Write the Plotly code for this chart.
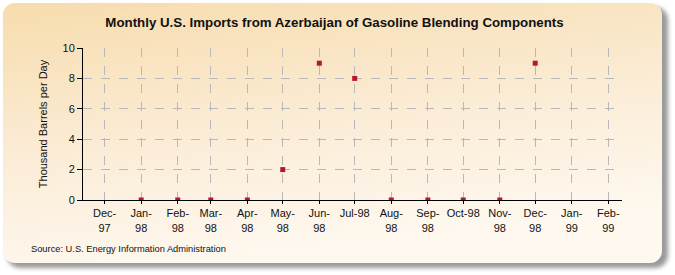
import base64
import plotly.graph_objects as go

# ---- data ----
months = ["1998-01-01", "1998-02-01", "1998-03-01", "1998-04-01", "1998-05-01", "1998-06-01",
          "1998-07-01", "1998-08-01", "1998-09-01", "1998-10-01", "1998-11-01", "1998-12-01"]
values = [0, 0, 0, 0, 2, 9, 8, 0, 0, 0, 0, 9]

tick_dates = ["1997-12-01", "1998-01-01", "1998-02-01", "1998-03-01", "1998-04-01", "1998-05-01",
              "1998-06-01", "1998-07-01", "1998-08-01", "1998-09-01", "1998-10-01", "1998-11-01",
              "1998-12-01", "1999-01-01", "1999-02-01"]
tick_labels = ["Dec-<br>97", "Jan-<br>98", "Feb-<br>98", "Mar-<br>98", "Apr-<br>98", "May-<br>98",
               "Jun-<br>98", "Jul-98", "Aug-<br>98", "Sep-<br>98", "Oct-98", "Nov-<br>98",
               "Dec-<br>98", "Jan-<br>99", "Feb-<br>99"]

title = "Monthly U.S. Imports from Azerbaijan of Gasoline Blending Components"
y_title = "Thousand Barrels per Day"
source = "Source: U.S. Energy Information Administration"

W, H = 675, 275
L, R, T, B = 83, 53, 48, 75
pw, ph = W - L - R, H - T - B

svg = f'''<svg xmlns="http://www.w3.org/2000/svg" width="{W}" height="{H}" viewBox="0 0 {W} {H}">
<defs>
<linearGradient id="g" x1="0" y1="0" x2="0.3" y2="1">
<stop offset="0" stop-color="#f7dcad"/>
<stop offset="0.55" stop-color="#fbecd6"/>
<stop offset="1" stop-color="#fef8ef"/>
</linearGradient>
<filter id="f" x="-5%" y="-5%" width="110%" height="110%"><feGaussianBlur stdDeviation="2"/></filter>
</defs>
<rect x="7" y="7" width="661" height="261" rx="13" ry="13" fill="#9a9a9a" filter="url(#f)"/>
<rect x="3" y="3" width="659" height="260" rx="12" ry="12" fill="url(#g)"/>
</svg>'''
src = "data:image/svg+xml;base64," + base64.b64encode(svg.encode()).decode()

fig = go.Figure()
fig.add_trace(go.Scatter(
    x=months, y=values, mode="markers",
    marker=dict(symbol="square", size=5, color="#b8142a"),
    hoverinfo="x+y", showlegend=False,
))

fig.update_layout(
    width=W, height=H,
    margin=dict(l=L, r=R, t=T, b=B),
    paper_bgcolor="white",
    plot_bgcolor="white",
    font=dict(family="Liberation Sans, Arial, sans-serif", size=11, color="#111"),
    title=dict(text="<b>" + title + "</b>", x=(334.5 - L) / pw, xref="paper", xanchor="center",
               y=1 - 22 / H, yanchor="middle", font=dict(size=13.3, color="#111")),
    xaxis=dict(
        type="date",
        range=["1997-11-12 16:00", "1999-02-12 14:00"],
        tickvals=tick_dates, ticktext=tick_labels, tickangle=0,
        showgrid=True, gridcolor="#b8b8b8", griddash="dash", gridwidth=1,
        showline=True, linecolor="#000", linewidth=1,
        ticks="outside", ticklen=3, tickcolor="#000",
        tickfont=dict(size=11), zeroline=False,
    ),
    yaxis=dict(
        range=[0, 10], tickvals=[0, 2, 4, 6, 8, 10],
        showgrid=True, gridcolor="#b8b8b8", griddash="dash", gridwidth=1,
        showline=True, linecolor="#000", linewidth=1,
        ticks="outside", ticklen=5, tickcolor="#000",
        tickfont=dict(size=11), zeroline=False,
        title=dict(text=y_title, font=dict(size=11), standoff=12),
    ),
    images=[dict(source=src, xref="paper", yref="paper",
                 x=-L / pw, y=1 + T / ph, sizex=W / pw, sizey=H / ph,
                 xanchor="left", yanchor="top", sizing="stretch", layer="below")],
    annotations=[dict(text=source, xref="paper", yref="paper",
                      x=(29 - L) / pw, y=(ph + T - 249) / ph, xanchor="left", yanchor="middle",
                      showarrow=False, font=dict(size=9.3, color="#111"))],
)

fig.write_html("out.html")
